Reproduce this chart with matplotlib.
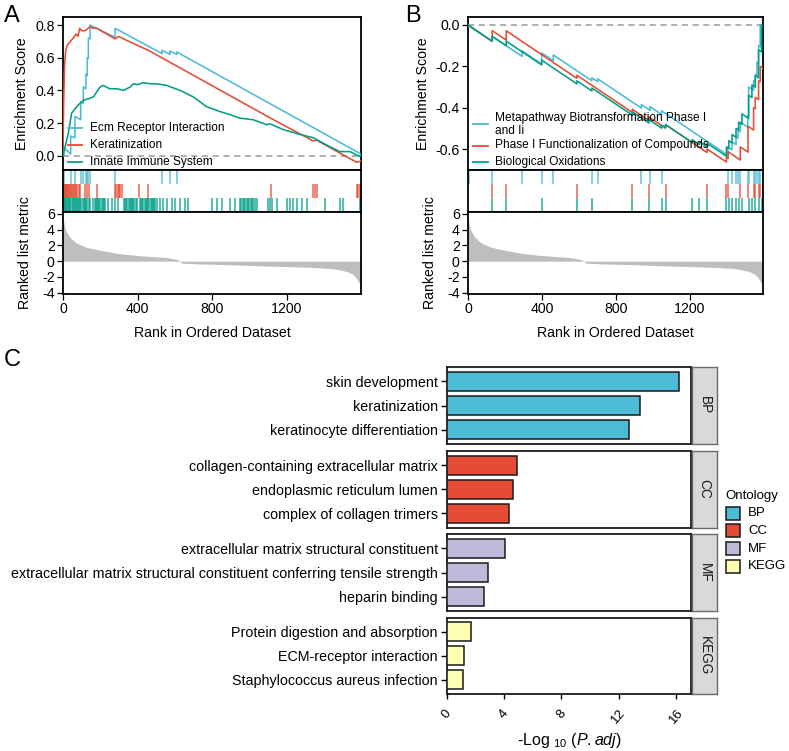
import matplotlib
matplotlib.use("Agg")
import matplotlib.pyplot as plt
from matplotlib.lines import Line2D
from matplotlib.patches import Rectangle

plt.rcParams['font.family'] = ['Liberation Sans', 'DejaVu Sans']
plt.rcParams['axes.unicode_minus'] = False
plt.rcParams['mathtext.fontset'] = 'custom'
plt.rcParams['mathtext.rm'] = 'Liberation Sans'
plt.rcParams['mathtext.it'] = 'Liberation Sans:italic'

# ---------------- data ----------------
N_GENES = 1598
metric_rank = [0, 5, 11, 20, 38, 73, 127, 198, 288, 377, 466, 556, 610, 627, 636, 734, 900, 1092, 1250, 1360, 1449, 1521, 1557, 1574, 1589, 1596]
metric_val = [5.5, 4.9, 4.2, 3.7, 3.0, 2.3, 1.75, 1.4, 1.0, 0.77, 0.6, 0.47, 0.22, 0.05, -0.25, -0.35, -0.45, -0.62, -0.72, -0.82, -0.95, -1.3, -1.7, -2.2, -2.8, -3.6]

# Panel A
setsA = ["Ecm Receptor Interaction", "Keratinization", "Innate Immune System"]
esA_ecm_rank = [0, 5, 5, 41, 41, 64, 64, 95, 95, 109, 109, 123, 123, 130, 130, 136, 136, 145, 145, 279, 279, 531, 531, 574, 574, 610, 610, 1598]
esA_ecm_val = [0, 0, 0.05, 0.01, 0.12, 0.11, 0.24, 0.22, 0.33, 0.32, 0.42, 0.41, 0.50, 0.49, 0.60, 0.595, 0.72, 0.715, 0.80, 0.725, 0.78, 0.625, 0.645, 0.62, 0.64, 0.62, 0.635, 0.01]
esA_ker_rank = [0, 3, 8, 15, 25, 40, 55, 70, 80, 90, 100, 118, 130, 145, 160, 181, 279, 290, 300, 315, 409, 458, 1113, 1342, 1360, 1574, 1592, 1598]
esA_ker_val = [0, 0.30, 0.55, 0.65, 0.68, 0.70, 0.72, 0.745, 0.73, 0.78, 0.765, 0.765, 0.775, 0.79, 0.78, 0.78, 0.715, 0.725, 0.73, 0.72, 0.67, 0.645, 0.23, 0.09, 0.095, -0.04, -0.035, -0.03]
esA_imm_rank = [0, 11, 29, 46, 73, 109, 140, 163, 198, 216, 250, 288, 325, 359, 377, 400, 431, 470, 502, 556, 627, 699, 770, 842, 900, 949, 1020, 1092, 1110, 1181, 1271, 1342, 1414, 1485, 1539, 1592, 1598]
esA_imm_val = [0, 0.055, 0.14, 0.26, 0.30, 0.34, 0.35, 0.36, 0.42, 0.43, 0.41, 0.41, 0.40, 0.42, 0.44, 0.435, 0.447, 0.44, 0.44, 0.43, 0.40, 0.36, 0.30, 0.27, 0.25, 0.23, 0.22, 0.19, 0.195, 0.16, 0.13, 0.11, 0.065, 0.025, 0.025, -0.005, 0.01]
hitsA_ecm = [5, 41, 64, 95, 109, 123, 130, 136, 145, 279, 531, 574, 610]
hitsA_ker = [0, 3, 6, 9, 12, 15, 19, 23, 27, 31, 36, 41, 46, 52, 58, 64, 70, 77, 84, 91,
             118, 130, 141, 180, 279, 286, 293, 300, 308, 315, 409, 458, 1113, 1342, 1351, 1360, 1574, 1583, 1592]
hitsA_imm = [0, 4, 9, 13, 18, 22, 27, 31, 36, 40, 46, 52, 57, 63, 68, 75, 80, 86, 93, 99, 105, 111, 118, 124, 131, 137, 143,
             163, 169, 175, 181, 188, 194, 200, 207, 213, 220, 225, 243, 261, 279, 297,
             327, 333, 339, 345, 352, 358, 364, 370, 377, 383, 389, 395,
             413, 419, 425, 431, 438, 444, 450, 457, 463, 470, 476, 482, 489, 495, 502,
             520, 538, 556, 583, 600, 627, 654, 672, 797, 824, 851, 895, 922,
             949, 956, 963, 970, 977, 985, 992, 999, 1006, 1013, 1020, 1027, 1038,
             1101, 1110, 1119, 1145, 1199, 1217, 1235, 1253, 1279, 1306, 1405, 1485, 1503, 1592]

# Panel B
setsB = ["Metapathway Biotransformation Phase I\nand Ii", "Phase I Functionalization of Compounds", "Biological Oxidations"]
esB_meta_rank = [0, 131, 131, 293, 293, 399, 399, 462, 462, 671, 671, 702, 702, 939, 939, 986, 986, 1049, 1049, 1407, 1407, 1430, 1430, 1452, 1452, 1463, 1463, 1475, 1475, 1515, 1515, 1520, 1520, 1547, 1547, 1556, 1556, 1565, 1565, 1574, 1574, 1583, 1583, 1598]
esB_meta_val = [0, -0.079, -0.055, -0.152, -0.125, -0.189, -0.135, -0.173, -0.145, -0.270, -0.255, -0.274, -0.26, -0.402, -0.385, -0.413, -0.395, -0.433, -0.415, -0.63, -0.59, -0.604, -0.565, -0.578, -0.54, -0.547, -0.51, -0.517, -0.47, -0.494, -0.44, -0.443, -0.30, -0.316, -0.27, -0.275, -0.24, -0.245, -0.18, -0.185, -0.10, -0.105, 0.0, -0.005]
esB_phase_rank = [0, 131, 131, 207, 207, 590, 590, 890, 890, 980, 980, 1070, 1070, 1295, 1295, 1400, 1400, 1409, 1409, 1475, 1475, 1517, 1517, 1547, 1547, 1556, 1556, 1574, 1574, 1583, 1583, 1598]
esB_phase_val = [0, -0.079, -0.027, -0.073, -0.028, -0.258, -0.243, -0.423, -0.408, -0.462, -0.445, -0.499, -0.482, -0.617, -0.60, -0.663, -0.64, -0.645, -0.613, -0.653, -0.59, -0.615, -0.49, -0.508, -0.40, -0.405, -0.35, -0.361, -0.27, -0.275, -0.2, -0.209]
esB_oxi_rank = [0, 131, 131, 207, 207, 399, 399, 590, 590, 671, 671, 890, 890, 980, 980, 1049, 1049, 1070, 1070, 1214, 1214, 1254, 1254, 1295, 1295, 1400, 1400, 1413, 1413, 1430, 1430, 1452, 1452, 1466, 1466, 1484, 1484, 1520, 1520, 1538, 1538, 1556, 1556, 1574, 1574, 1590, 1590, 1598]
esB_oxi_val = [0, -0.079, -0.055, -0.1, -0.078, -0.193, -0.17, -0.285, -0.27, -0.319, -0.305, -0.436, -0.42, -0.474, -0.458, -0.499, -0.484, -0.497, -0.482, -0.568, -0.555, -0.579, -0.565, -0.59, -0.572, -0.635, -0.59, -0.598, -0.56, -0.57, -0.53, -0.543, -0.50, -0.508, -0.47, -0.481, -0.43, -0.452, -0.34, -0.351, -0.29, -0.30, -0.245, -0.256, -0.12, -0.13, 0.0, -0.005]
hitsB_meta = [4, 131, 293, 399, 462, 671, 702, 939, 986, 1049, 1407, 1430, 1452, 1463, 1475, 1515, 1520, 1547, 1556, 1565, 1574, 1583]
hitsB_phase = [131, 207, 590, 890, 980, 1070, 1295, 1400, 1409, 1475, 1517, 1547, 1556, 1574, 1583]
hitsB_oxi = [131, 207, 399, 590, 671, 890, 980, 1049, 1070, 1214, 1254, 1295, 1400, 1413, 1430, 1452, 1466, 1484, 1520, 1538, 1556, 1574, 1590]

# Panel C
ontologies = ["BP", "CC", "MF", "KEGG"]
terms_BP = ["skin development", "keratinization", "keratinocyte differentiation"]
vals_BP = [16.2, 13.5, 12.75]
terms_CC = ["collagen-containing extracellular matrix", "endoplasmic reticulum lumen", "complex of collagen trimers"]
vals_CC = [4.92, 4.6, 4.36]
terms_MF = ["extracellular matrix structural constituent",
            "extracellular matrix structural constituent conferring tensile strength", "heparin binding"]
vals_MF = [4.05, 2.84, 2.61]
terms_KEGG = ["Protein digestion and absorption", "ECM-receptor interaction", "Staphylococcus aureus infection"]
vals_KEGG = [1.68, 1.21, 1.1]

# ---------------- style ----------------
C_BLUE, C_RED, C_GREEN = '#4DBBD5', '#E64B35', '#00A087'
ONT_COLORS = ['#4DBBD5', '#E64B35', '#BEBADA', '#FFFFB3']
W, H = 789, 751
fig = plt.figure(figsize=(W / 100, H / 100), dpi=100)


def fx(x):
    return x / W


def fy(y):
    return 1 - y / H


def add_ax(l, t, r, b):
    return fig.add_axes([l / W, 1 - b / H, (r - l) / W, (b - t) / H])


def style_spines(ax, lw=1.3, color='black'):
    for s in ax.spines.values():
        s.set_linewidth(lw)
        s.set_color(color)


def gsea_panel(left, right, curves, hits, colors, ylim, yticks, es_lab_x, rk_lab_x):
    ax1 = add_ax(left, 17, right, 170)
    ax1.axhline(0, color='#9a9a9a', ls=(0, (4, 3)), lw=1.1, zorder=1)
    for (r, v), c in zip(curves, colors):
        ax1.plot(r, v, color=c, lw=1.15, zorder=3)
    ax1.set_xlim(0, N_GENES)
    ax1.set_ylim(*ylim)
    ax1.set_xticks([])
    ax1.set_yticks(yticks)
    ax1.set_yticklabels([f"{t:.1f}" if t != 0 else "0.0" for t in yticks])
    ax1.tick_params(axis='y', direction='out', length=4, width=0.9, labelsize=10.2, pad=2)
    style_spines(ax1)

    ax2 = add_ax(left, 170, right, 212)
    for i, (h, c) in enumerate(zip(hits, colors)):
        ax2.vlines(h, 2 - i, 3 - i, color=c, lw=1.1, alpha=0.85)
    ax2.set_xlim(0, N_GENES)
    ax2.set_ylim(0, 3)
    ax2.set_xticks([])
    ax2.set_yticks([])
    style_spines(ax2)

    ax3 = add_ax(left, 212, right, 294)
    ax3.fill_between(metric_rank, metric_val, 0, color='#BEBEBE', lw=0)
    ax3.set_xlim(0, N_GENES)
    ax3.set_ylim(-4.17, 6.25)
    ax3.set_yticks([6, 4, 2, 0, -2, -4])
    ax3.set_yticklabels(['6', '4', '2', '0', '-2', '-4'])
    ax3.set_xticks([0, 400, 800, 1200])
    ax3.tick_params(direction='out', length=4, width=0.9, labelsize=10.2, pad=2)
    style_spines(ax3)

    fig.text(fx(es_lab_x), fy(93.5), "Enrichment Score", rotation=90, ha='center', va='center', fontsize=10.2)
    fig.text(fx(rk_lab_x), fy(253), "Ranked list metric", rotation=90, ha='center', va='center', fontsize=10.2)
    fig.text(fx((left + right) / 2), fy(332.7), "Rank in Ordered Dataset", ha='center', va='center', fontsize=10.2)
    return ax1


gsea_panel(63, 361,
           [(esA_ecm_rank, esA_ecm_val), (esA_ker_rank, esA_ker_val), (esA_imm_rank, esA_imm_val)],
           [hitsA_ecm, hitsA_ker, hitsA_imm], [C_BLUE, C_RED, C_GREEN],
           (-0.0875, 0.849), [0.0, 0.2, 0.4, 0.6, 0.8], 22.5, 25)
gsea_panel(468, 763,
           [(esB_meta_rank, esB_meta_val), (esB_phase_rank, esB_phase_val), (esB_oxi_rank, esB_oxi_val)],
           [hitsB_meta, hitsB_phase, hitsB_oxi], [C_BLUE, C_RED, C_GREEN],
           (-0.7015, 0.0387), [0.0, -0.2, -0.4, -0.6], 423, 430)

# legends for GSEA panels (drawn on top)
def gsea_legend(x0, x1, xt, items):
    for lab, col, yh, yt in items:
        fig.add_artist(Line2D([fx(x0), fx(x1)], [fy(yh), fy(yh)], color=col, lw=1.3,
                              transform=fig.transFigure, zorder=10))
        fig.text(fx(xt), fy(yt), lab, ha='left', va='center', fontsize=8.6, linespacing=1.05, zorder=10)


gsea_legend(68, 82, 90, [(setsA[0], C_BLUE, 127.7, 127.7), (setsA[1], C_RED, 145, 145),
                          (setsA[2], C_GREEN, 162.3, 162.3)])
gsea_legend(473, 488, 495, [(setsB[0], C_BLUE, 124, 124.5), (setsB[1], C_RED, 145.5, 145),
                             (setsB[2], C_GREEN, 161.7, 162.3)])

fig.text(fx(4), fy(16), "A", fontsize=17, ha='left', va='center')
fig.text(fx(405), fy(16), "B", fontsize=17, ha='left', va='center')
fig.text(fx(4), fy(360), "C", fontsize=17, ha='left', va='center')

# ---------------- panel C ----------------
facets = [(terms_BP, vals_BP, 367, 444), (terms_CC, vals_CC, 451, 527.5),
          (terms_MF, vals_MF, 534, 611), (terms_KEGG, vals_KEGG, 617.5, 694)]
for k, ((terms, vals, t, b), ont, col) in enumerate(zip(facets, ontologies, ONT_COLORS)):
    ax = add_ax(447, t, 691, b)
    pos = list(range(len(terms), 0, -1))
    ax.barh(pos, vals, height=0.8, color=col, edgecolor='#1a1a1a', linewidth=1.1, zorder=3)
    ax.set_ylim(0.4, 3.6)
    ax.set_xlim(0, 17.05)
    ax.set_yticks(pos)
    ax.set_yticklabels(terms, fontsize=10.3)
    ax.tick_params(axis='y', direction='out', length=4.5, width=1.0, pad=2)
    if k == len(facets) - 1:
        ax.set_xticks([0, 4, 8, 12, 16])
        ax.set_xticklabels(['0', '4', '8', '12', '16'], rotation=50, fontsize=9.5, ha='center', va='top')
        ax.tick_params(axis='x', direction='out', length=3.5, width=1.0, pad=6)
    else:
        ax.set_xticks([])
    style_spines(ax, lw=1.3, color='#1a1a1a')
    sax = add_ax(692, t, 717, b)
    sax.set_facecolor('#D9D9D9')
    sax.set_xticks([])
    sax.set_yticks([])
    style_spines(sax, lw=1.0, color='#6b6b6b')
    sax.text(0.5, 0.5, ont, rotation=-90, ha='center', va='center', fontsize=9.8,
             color='#1a1a1a', transform=sax.transAxes)

fig.text(fx(569), fy(740), r"-Log $_{10}$ ($\mathit{P.adj}$)", ha='center', va='center', fontsize=11.5)

# legend for ontology
fig.text(fx(725), fy(495.7), "Ontology", ha='left', va='center', fontsize=9.5)
for i, (ont, col) in enumerate(zip(ontologies, ONT_COLORS)):
    yc = 513 + 17.8 * i
    fig.add_artist(Rectangle((fx(726), fy(yc + 6.5)), 13.5 / W, 13 / H, facecolor=col,
                             edgecolor='#1a1a1a', lw=1.1, transform=fig.transFigure))
    fig.text(fx(748), fy(yc), ont, ha='left', va='center', fontsize=9.5)

fig.savefig("out.png", dpi=100)
